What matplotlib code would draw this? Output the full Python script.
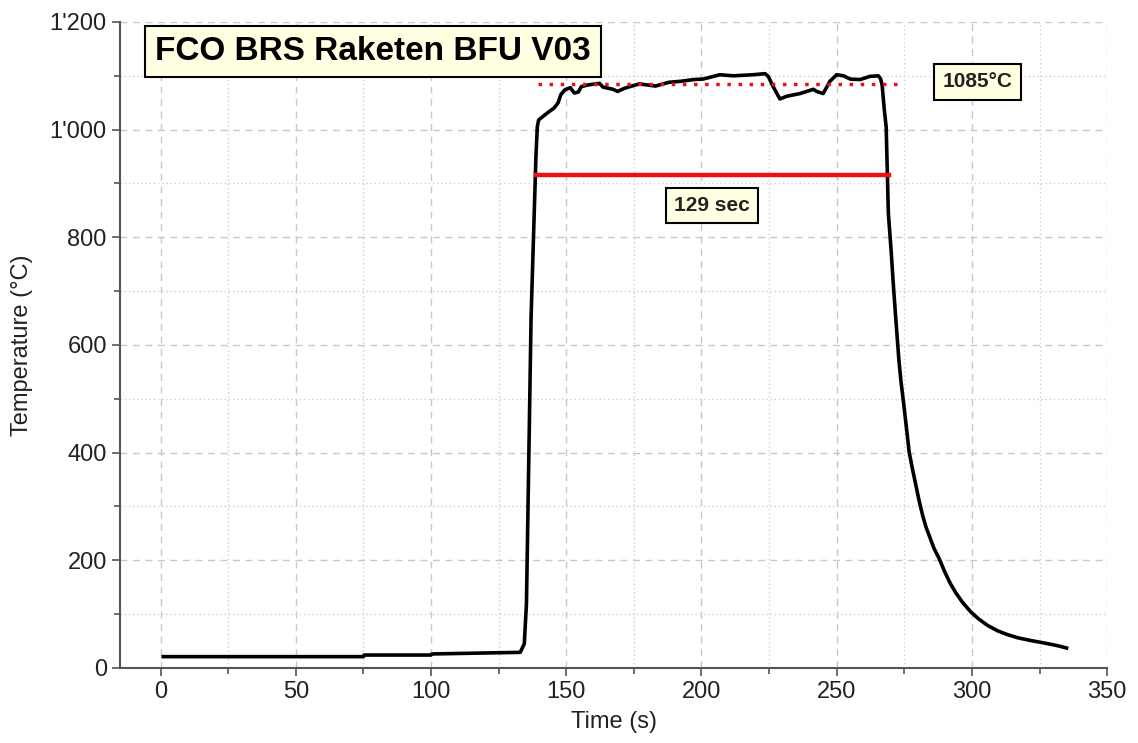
import matplotlib
matplotlib.use("Agg")
import matplotlib.pyplot as plt
from matplotlib.ticker import MultipleLocator, FuncFormatter

plt.rcParams['font.family'] = ['Liberation Sans', 'DejaVu Sans']

# measured temperature curve
time_s = [1, 75, 75.3, 100, 100.3, 133, 134.5, 135.3, 136.2, 137,
          138.2, 138.8, 139.3, 139.8, 141.5, 143.8, 145.5, 147, 148, 149.5,
          151.5, 153, 154.5, 155.6, 158, 162.3, 163.6, 167.3, 169, 171.6,
          177, 183, 188, 192.6, 197, 200.6, 206.8, 211.7, 219, 223.5,
          224.7, 226.5, 229, 231.5, 236.4, 241.4, 242.6, 245, 247.5, 250,
          252.5, 255, 258.6, 262.3, 265.4, 266.2, 266.8, 267.6, 268.3, 269.1,
          270.1, 271, 271.8, 273, 273.8, 275, 276.8, 278, 279.3, 280.5,
          281.8, 283, 284.2, 286, 287.9, 290, 292, 294, 296.5, 299.6,
          302.5, 305.8, 309.5, 313.1, 317, 321.7, 325, 329.1, 332, 335]
temp_c = [21, 21, 24, 24, 26, 29, 45, 120, 400, 650,
          850, 950, 1005, 1018, 1025, 1034, 1040, 1050, 1065, 1074,
          1078, 1068, 1070, 1080, 1083, 1086, 1079, 1075, 1071, 1077,
          1085, 1081, 1088, 1090, 1093, 1094, 1102, 1100, 1102, 1104,
          1099, 1080, 1057, 1062, 1067, 1075, 1071, 1067, 1090, 1102,
          1100, 1094, 1093, 1099, 1100, 1095, 1083, 1037, 1005, 845,
          777, 708, 652, 572, 531, 481, 401, 370, 339, 310,
          283, 262, 246, 222, 203, 178, 157, 140, 122, 104,
          91, 79, 69, 62, 56, 51, 48, 44, 41, 37]

# reference lines
melt_temp = 1085
melt_span = [139.5, 275]
hold_temp = 916
hold_span = [138.7, 269.3]

title = "FCO BRS Raketen BFU V03"
melt_label = "1085°C"
hold_label = "129 sec"

fig = plt.figure(figsize=(11.38, 7.43), dpi=100)
ax = fig.add_axes([0.1054, 0.101, 0.8675, 0.8694])

ax.plot(time_s, temp_c, color='black', lw=2.6, zorder=3)
ax.plot(melt_span, [melt_temp, melt_temp], color='#e8101a', lw=2.5,
        linestyle=(0, (1, 2.2)), zorder=4)
ax.plot(hold_span, [hold_temp, hold_temp], color='#ee1111', lw=3.2, zorder=4)

ax.set_xlim(-15, 350)
ax.set_ylim(0, 1200)
ax.xaxis.set_major_locator(MultipleLocator(50))
ax.xaxis.set_minor_locator(MultipleLocator(25))
ax.yaxis.set_major_locator(MultipleLocator(200))
ax.yaxis.set_minor_locator(MultipleLocator(100))
ax.yaxis.set_major_formatter(FuncFormatter(lambda v, p: f"{int(v):,}".replace(",", "'")))

ax.grid(which='major', color='#c8c8c8', linestyle=(0, (5, 4)), lw=1)
ax.grid(which='minor', color='#cfcfcf', linestyle=(0, (1, 2)), lw=1)
ax.set_axisbelow(True)

for s in ['top', 'right']:
    ax.spines[s].set_visible(False)
for s in ['left', 'bottom']:
    ax.spines[s].set_color('#555555')
    ax.spines[s].set_linewidth(1.5)
ax.tick_params(which='major', direction='out', length=6, width=1.2,
               color='#555555', labelsize=17, labelcolor='#222222')
ax.tick_params(which='minor', direction='out', length=4, width=1.2, color='#555555')

ax.set_xlabel("Time (s)", fontsize=17, color='#222222', labelpad=6)
ax.set_ylabel("Temperature (°C)", fontsize=17, color='#222222', labelpad=12)

box = dict(boxstyle='square,pad=0.3', facecolor='#ffffe1', edgecolor='black', lw=1.5)
ax.text(0.036, 0.955, title, transform=ax.transAxes, fontsize=24, fontweight='bold',
        ha='left', va='center', bbox=box, zorder=5)
box2 = dict(boxstyle='square,pad=0.4', facecolor='#ffffe1', edgecolor='black', lw=1.5)
ax.text(302, 1089, melt_label, fontsize=15, fontweight='bold', color='#222222',
        ha='center', va='center', bbox=box2, zorder=5)
ax.text(204, 859, hold_label, fontsize=15, fontweight='bold', color='#222222',
        ha='center', va='center', bbox=box2, zorder=5)

fig.savefig("out.png", dpi=100)
